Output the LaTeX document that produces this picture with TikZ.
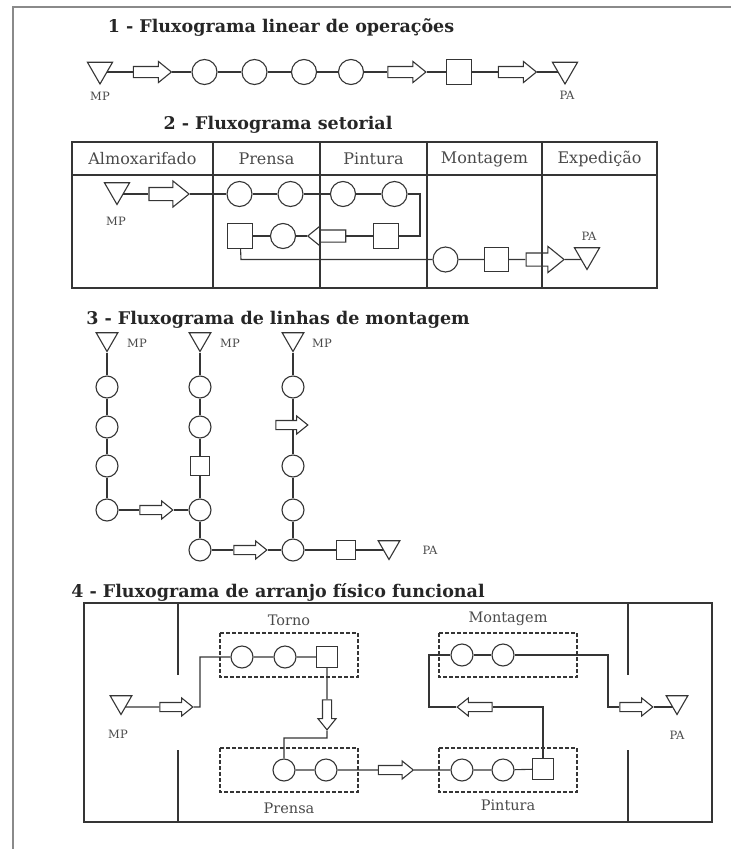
\documentclass[tikz,border=0pt]{standalone}
\usepackage{fontspec}
\setmainfont{DejaVu Serif}
\usetikzlibrary{shapes.geometric,shapes.arrows}
\pgfdeclarelayer{bg}
\pgfsetlayers{bg,main}
\definecolor{ink}{HTML}{353535}
\definecolor{txt}{HTML}{4A4A4A}
\definecolor{frm}{HTML}{8A8A8A}
\begin{document}
\begin{tikzpicture}[x=1pt,y=-1pt,
  every node/.style={inner sep=0pt, line width=1.1pt, draw=ink},
  op/.style={circle, fill=white, minimum size=#1},
  op/.default=25,
  insp/.style={rectangle, fill=white, minimum size=#1},
  insp/.default=25,
  stk/.style={regular polygon, regular polygon sides=3, shape border rotate=180, fill=white, minimum size=#1},
  stk/.default=29,
  tra/.style={single arrow, fill=white, inner xsep=0pt, inner ysep=5pt, minimum height=#1, single arrow head extend=5pt, single arrow tip angle=78},
  tra/.default=38,
  big/.style={inner ysep=6pt, single arrow head extend=6.5pt},
  sml/.style={inner ysep=4pt, single arrow head extend=4.5pt},
  conn/.style={draw=ink, line width=1.1pt},
  lab/.style={draw=none, text=txt, font=\fontsize{11.5}{13}\selectfont},
  hdr/.style={draw=none, text=txt, font=\fontsize{16}{19}\selectfont},
  hdrs/.style={draw=none, text=txt, font=\fontsize{14.5}{17}\selectfont},
  ttl/.style={draw=none, text=black!85, font=\fontsize{17.5}{20}\selectfont\bfseries},
  grid/.style={draw=ink, line width=1.7pt},
  dbox/.style={draw=ink, line width=2pt, dash pattern=on 4pt off 2pt}
]
\useasboundingbox (0,0) rectangle (731,849);
% page frame
\draw[frm, line width=1.6pt] (13,849) -- (13,7) -- (731,7);

% ---------------- 1 ----------------
\node[ttl] (t1) at (281,28) {1 - Fluxograma linear de operações};
\node[stk] (mp1) at (100,69.5) {};
\node[lab] (mp1l) at (100,96) {MP};
\node[tra] (a11) at (149,72) {};
\node[op] (c11) at (204.5,72) {};
\node[op] (c12) at (254.5,72) {};
\node[op] (c13) at (304,72) {};
\node[op] (c14) at (351,72) {};
\node[tra] (a12) at (403.5,72) {};
\node[insp] (s11) at (459,72) {};
\node[tra] (a13) at (514,72) {};
\node[stk] (pa1) at (565,69.5) {};
\node[lab] (pa1l) at (567,95) {PA};
\begin{pgfonlayer}{bg}
\draw[conn] (a11 -| mp1) -- (a11) -- (c11) -- (c12) -- (c13) -- (c14) -- (a12) -- (s11) -- (a13) -- (a13 -| pa1);
\end{pgfonlayer}

% ---------------- 2 ----------------
\node[ttl] (t2) at (278,125) {2 - Fluxograma setorial};
\node[hdr] (h1) at (142.5,159) {Almoxarifado};
\node[hdr] (h2) at (266.5,159) {Prensa};
\node[hdr] (h3) at (373.5,159) {Pintura};
\node[hdr] (h4) at (484.5,159) {Montagem};
\node[hdr] (h5) at (599.5,159) {Expedição};
\node[stk] (mp2) at (117,190) {};
\node[lab] (mp2l) at (116,221) {MP};
\node[tra=40, big] (a21) at (165,194) {};
\node[op] (c21) at (239.5,194) {};
\node[op] (c22) at (290.5,194) {};
\node[op] (c23) at (343,194) {};
\node[op] (c24) at (394.5,194) {};
\coordinate (b21) at (420,194);
\coordinate (b22) at (420,236);
\node[insp] (s21) at (386,236) {};
\node[tra, shape border rotate=180, inner ysep=5.5pt, single arrow head extend=3.5pt] (a22) at (330.5,236) {};
\node[op] (c25) at (283,236) {};
\node[insp] (s22) at (240,236) {};
\coordinate (b23) at (241,259.5);
\node[op] (c26) at (445.5,259.5) {};
\node[insp=24] (s23) at (496.5,259.5) {};
\node[tra, big] (a23) at (541,259.5) {};
\node[stk] (pa2) at (587,255) {};
\node[lab] (pa2l) at (589,236) {PA};
\begin{pgfonlayer}{bg}
\draw[conn] (a21 -| mp2) -- (a21) -- (c21) -- (c22) -- (c23) -- (c24) -- (b21) -- (b22) -- (s21) -- (a22) -- (c25) -- (s22);
\draw[conn] (s22) -- (b23) -- (c26) -- (s23) -- (a23) -- (a23 -| pa2);
\end{pgfonlayer}
\draw[grid] (72,142) rectangle (657,288);
\draw[grid] (72,175) -- (657,175);
\draw[grid] (213,142) -- (213,288);
\draw[grid] (320,142) -- (320,288);
\draw[grid] (427,142) -- (427,288);
\draw[grid] (542,142) -- (542,288);

% ---------------- 3 ----------------
\node[ttl] (t3) at (278,320) {3 - Fluxograma de linhas de montagem};
\node[stk=25] (mp31) at (107,339) {};
\node[lab] (mp31l) at (137,343) {MP};
\node[op=22] (c31a) at (107,387) {};
\node[op=22] (c31b) at (107,427) {};
\node[op=22] (c31c) at (107,466) {};
\node[op=22] (c31d) at (107,510) {};
\node[tra=33, sml] (a31) at (153.5,510) {};
\node[stk=25] (mp32) at (200,339) {};
\node[lab] (mp32l) at (230,343) {MP};
\node[op=22] (c32a) at (200,387) {};
\node[op=22] (c32b) at (200,427) {};
\node[insp=19] (s32) at (200,466) {};
\node[op=22] (c32c) at (200,510) {};
\node[op=22] (c32d) at (200,550) {};
\node[stk=25] (mp33) at (293,339) {};
\node[lab] (mp33l) at (322,343) {MP};
\node[op=22] (c33a) at (293,387) {};
\node[tra=32, sml] (a33) at (289,425) {};
\node[op=22] (c33b) at (293,466) {};
\node[op=22] (c33c) at (293,510) {};
\node[op=22] (c33d) at (293,550) {};
\node[tra=33, sml] (a32) at (247.5,550) {};
\node[insp=19] (s33) at (346,550) {};
\node[stk=25] (pa3) at (389,547) {};
\node[lab] (pa3l) at (430,550) {PA};
\begin{pgfonlayer}{bg}
\draw[conn] (mp31) -- (c31a) -- (c31b) -- (c31c) -- (c31d) -- (a31) -- (c32c);
\draw[conn] (mp32) -- (c32a) -- (c32b) -- (s32) -- (c32c) -- (c32d) -- (a32) -- (c33d) -- (s33) -- (s33 -| pa3);
\draw[conn] (mp33) -- (c33a) -- (c33b) -- (c33c) -- (c33d);
\end{pgfonlayer}

% ---------------- 4 ----------------
\node[ttl] (t4) at (278,592) {4 - Fluxograma de arranjo físico funcional};
\draw[grid] (84,603) rectangle (712,822);
\draw[grid] (178,603) -- (178,675);
\draw[grid] (178,750) -- (178,822);
\draw[grid] (628,603) -- (628,675);
\draw[grid] (628,750) -- (628,822);
\node[hdrs] (torl) at (289,620) {Torno};
\node[hdrs] (mtgl) at (508,619) {Montagem};
\node[hdrs] (prl) at (289,808) {Prensa};
\node[hdrs] (pnl) at (508,805) {Pintura};
\node[stk=25] (mp4) at (121,702) {};
\node[lab] (mp4l) at (118,734) {MP};
\node[tra=33, sml] (a41) at (173.5,707) {};
\coordinate (b41) at (200,707);
\coordinate (b42) at (200,657);
\node[op=22] (c41) at (242,657) {};
\node[op=22] (c42) at (285,657) {};
\node[insp=21] (s41) at (327,657) {};
\node[tra=30, sml, rotate=-90] (a42) at (327,712) {};
\coordinate (b43) at (327,738);
\coordinate (b44) at (284,738);
\node[op=22] (c43) at (284,770) {};
\node[op=22] (c44) at (326,770) {};
\node[tra=35, sml] (a43) at (393,770) {};
\node[op=22] (c45) at (462,770) {};
\node[op=22] (c46) at (503,770) {};
\node[insp=21] (s42) at (543,769) {};
\coordinate (b45) at (543,707);
\node[tra=35, sml, shape border rotate=180] (a44) at (477.5,707) {};
\coordinate (b46) at (429,707);
\coordinate (b47) at (429,655);
\node[op=22] (c47) at (462,655) {};
\node[op=22] (c48) at (503,655) {};
\coordinate (b48) at (608,655);
\coordinate (b49) at (608,707);
\node[tra=33, sml] (a45) at (633.5,707) {};
\node[stk=25] (pa4) at (677,702) {};
\node[lab] (pa4l) at (677,735) {PA};
\begin{pgfonlayer}{bg}
\draw[conn] (a41 -| mp4) -- (a41) -- (b41) -- (b42) -- (c41) -- (c42) -- (s41) -- (a42) -- (b43) -- (b44) -- (c43) -- (c44) -- (a43) -- (c45) -- (c46) -- (s42);
\draw[conn] (s42) -- (b45) -- (a44) -- (b46) -- (b47) -- (c47) -- (c48) -- (b48) -- (b49) -- (a45) -- (a45 -| pa4);
\end{pgfonlayer}
\draw[dbox] (220,633) rectangle (358,677);
\draw[dbox] (439,633) rectangle (577,677);
\draw[dbox] (220,748) rectangle (358,792);
\draw[dbox] (439,748) rectangle (577,792);
\end{tikzpicture}
\end{document}
